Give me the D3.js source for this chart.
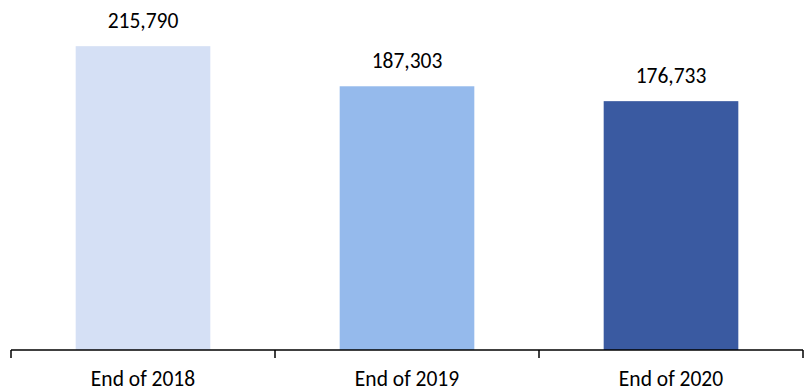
<!DOCTYPE html>
<html>
<head>
<meta charset="utf-8">
<script src="https://cdn.jsdelivr.net/npm/d3@7"></script>
<style>
  body { margin: 0; background: #fff; }
  svg text { font-family: Carlito, Calibri, Lato, sans-serif; fill: #000; }
</style>
</head>
<body>
<div id="root"></div>
<script>
// data
var categories = ["End of 2018", "End of 2019", "End of 2020"];
var values = [215790, 187303, 176733];
var colors = ["#D5E0F5", "#95BAEC", "#3A5AA1"];

var width = 804, height = 392;
var margin = { top: 0, right: 1, bottom: 42, left: 11 };

var svg = d3.select("#root")
    .append("svg")
    .attr("width", width)
    .attr("height", height);

var x = d3.scaleBand()
    .domain(categories)
    .range([margin.left, width - margin.right])
    .paddingInner(0.49)
    .paddingOuter(0.245);

var y = d3.scaleLinear()
    .domain([0, 250000])
    .range([height - margin.bottom, -2]);

var baseY = y(0);

// bars
svg.selectAll(".bar")
    .data(values)
    .enter()
    .append("rect")
    .attr("class", "bar")
    .attr("x", (d, i) => x(categories[i]))
    .attr("y", (d) => y(d))
    .attr("width", x.bandwidth())
    .attr("height", (d) => baseY - y(d))
    .attr("fill", (d, i) => colors[i]);

// value labels
svg.selectAll(".val")
    .data(values)
    .enter()
    .append("text")
    .attr("class", "val")
    .attr("x", (d, i) => x(categories[i]) + x.bandwidth() / 2)
    .attr("y", (d) => y(d) - 18)
    .attr("text-anchor", "middle")
    .style("font-size", "21.5px")
    .text((d) => d3.format(",")(d));

// x axis: line with ticks between categories
var axis = svg.append("g");
axis.append("line")
    .attr("x1", margin.left)
    .attr("x2", width - margin.right)
    .attr("y1", baseY)
    .attr("y2", baseY)
    .attr("stroke", "#000")
    .attr("stroke-width", 1.5);

var step = (width - margin.right - margin.left) / categories.length;
axis.selectAll(".tick")
    .data(d3.range(categories.length + 1))
    .enter()
    .append("line")
    .attr("x1", (i) => margin.left + i * step)
    .attr("x2", (i) => margin.left + i * step)
    .attr("y1", baseY)
    .attr("y2", baseY + 8)
    .attr("stroke", "#000")
    .attr("stroke-width", 1.5);

axis.selectAll(".cat")
    .data(categories)
    .enter()
    .append("text")
    .attr("class", "cat")
    .attr("x", (d) => x(d) + x.bandwidth() / 2)
    .attr("y", baseY + 36)
    .attr("text-anchor", "middle")
    .style("font-size", "21.5px")
    .text((d) => d);
</script>
</body>
</html>
